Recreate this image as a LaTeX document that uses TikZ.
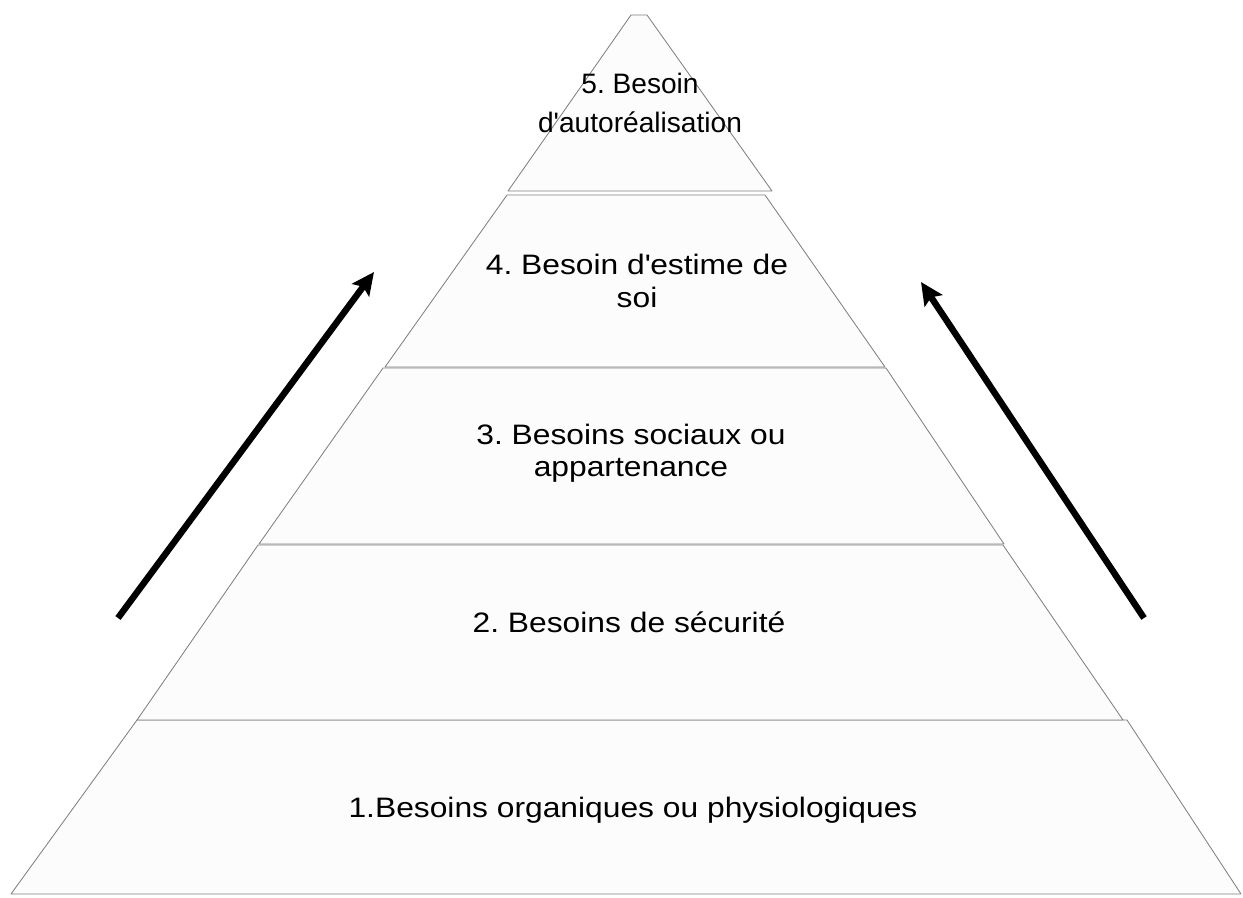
\documentclass[tikz,border=0pt]{standalone}
\usepackage{fontspec}
\setmainfont{Liberation Sans}
\newfontfamily\widesans{Liberation Sans}[FakeStretch=1.13]
\usetikzlibrary{arrows.meta}
\frenchspacing

\begin{document}
\begin{tikzpicture}[x=0.025cm, y=-0.025cm, align=center,
   tier/.style={draw=black!50, fill=black!1, line width=0.6pt, line join=round},
   levtext/.style={font=\widesans\fontsize{20}{23}\selectfont, inner sep=0pt},
   toptext/.style={font=\fontsize{20}{28}\selectfont, inner sep=0pt},
   climb/.style={line width=4.6pt, -{Stealth[length=16pt,width=15pt,inset=3pt]}}]

   \useasboundingbox (0,0) rectangle (1243,897);

   % pyramid, one trapezoid per level
   \path[tier] (11,894) -- (137,720) -- (1127,720) -- (1241,894) -- cycle;
   \path[tier] (137,720) -- (258,545) -- (1003,545) -- (1123,720) -- cycle;
   \path[tier] (259,544) -- (383,368) -- (886,368) -- (1004,544) -- cycle;
   \path[tier] (385,367) -- (507,195) -- (765,195) -- (885,367) -- cycle;
   \path[tier] (508,191) -- (631,15) -- (647,15) -- (772,191) -- cycle;

   \node[toptext] (5) at (640,103) {5. Besoin\\d\textquotesingle autoréalisation};
   \node[levtext] (4) at (637,281) {4. Besoin d\textquotesingle estime de\\soi};
   \node[levtext] (3) at (631,453) {3. Besoins sociaux ou\\appartenance};
   \node[levtext] (2) at (629,622) {2. Besoins de sécurité};
   \node[levtext] (1) at (633,810) {1.Besoins organiques ou physiologiques};

   \coordinate (l0) at (118,618);
   \coordinate (l1) at (374,272);
   \coordinate (r0) at (1144,618);
   \coordinate (r1) at (921,282);

    \path[climb] (l0) edge (l1);
    \path[climb] (r0) edge (r1);

\end{tikzpicture}
\end{document}
